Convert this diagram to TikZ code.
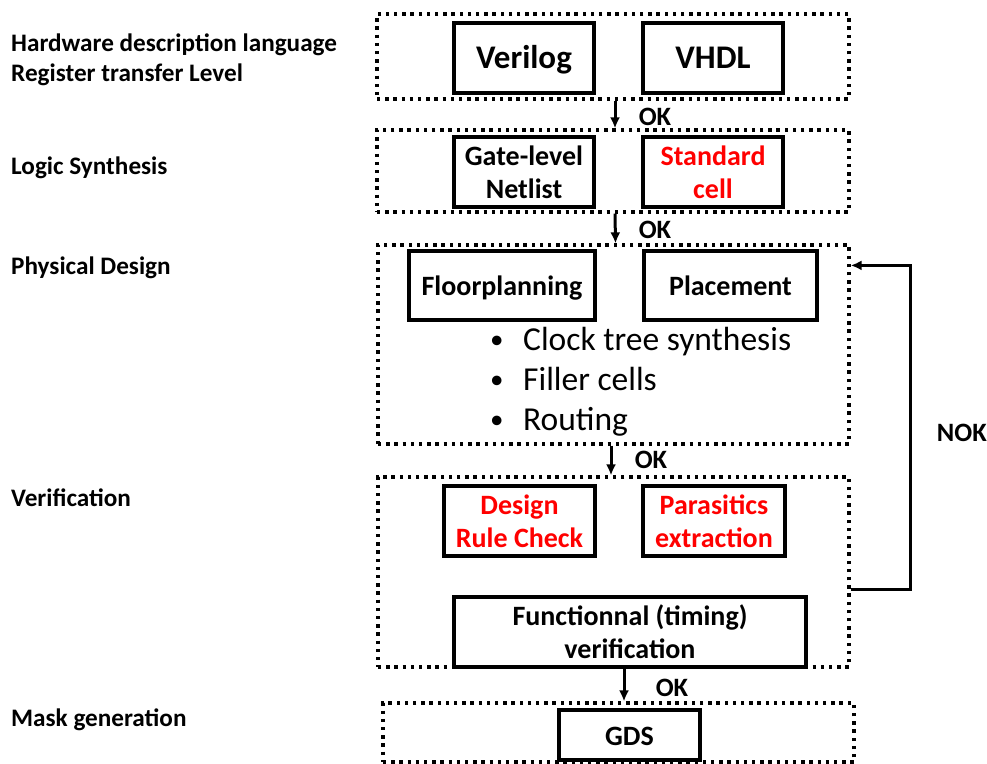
\documentclass[tikz,border=0pt]{standalone}
\usepackage{fontspec}
\setmainfont{Carlito}
\usetikzlibrary{arrows.meta}
\tikzset{
    stage/.style={draw, line width=3.2pt, dash pattern=on 3.4pt off 4.8pt, inner sep=0pt},
    cell/.style={draw, line width=3.2pt, inner sep=0pt, align=center,
        font=\fontsize{28}{33}\selectfont\bfseries},
    oneline/.style={text height=24pt, text depth=4pt},
    bigcell/.style={cell, oneline, font=\fontsize{33}{36}\selectfont\bfseries},
    side/.style={anchor=west, inner sep=0pt, align=left,
        font=\fontsize{25.2}{30}\selectfont\bfseries},
    flow/.style={line width=3pt, -{Latex[length=11pt,width=10pt]}},
    oklabel/.style={inner sep=0pt, font=\fontsize{26.5}{30}\selectfont\bfseries},
    bullet/.style={anchor=west, inner sep=0pt, text height=22pt, text depth=0pt,
        font=\fontsize{33.5}{36}\selectfont}
}
\newcommand\StageBox[4]{%
    \node[stage, minimum width=#3, minimum height=#4] (#1) at (#2) {};
}
\newcommand\CellBox[6][cell]{%
    \node[#1, minimum width=#4, minimum height=#5] (#2) at (#3) {#6};
}
\newcommand\Dot{\makebox[35pt][l]{\hspace{2pt}\raisebox{2pt}{\fontsize{27}{27}\selectfont\textbullet}}}

\begin{document}
\begin{tikzpicture}[x=1pt,y=-1pt]
    \useasboundingbox (0,0) rectangle (987,763);
    % stage frames
    \StageBox{HdlStage}{613,56.5}{472}{85}
    \StageBox{SynthStage}{613,171}{472}{82}
    \StageBox{PhysStage}{613.5,344.5}{471}{199}
    \StageBox{VerifStage}{613.5,572}{471}{190}
    \StageBox{MaskStage}{618.5,732.5}{471}{59}
    % stage names
    \node[side] (HdlName) at (11,60) {Hardware description language\\Register transfer Level};
    \node[side] (SynthName) at (11,168) {Logic Synthesis};
    \node[side] (PhysName) at (11,268) {Physical Design};
    \node[side] (VerifName) at (11,498) {Verification};
    \node[side] (MaskName) at (11,720) {Mask generation};
    % HDL
    \CellBox[bigcell]{Verilog}{524,58}{140}{70}{Verilog}
    \CellBox[bigcell]{Vhdl}{713,58}{140}{70}{VHDL}
    % synthesis
    \CellBox{Netlist}{524,172}{140}{70}{Gate-level\\Netlist}
    \begin{scope}[text=red]
        \CellBox{StdCell}{713,172}{140}{70}{Standard\\cell}
    \end{scope}
    % physical design
    \CellBox[cell,oneline]{Floorplan}{502,285.5}{186}{69}{Floorplanning}
    \CellBox[cell,oneline]{Placement}{730.5,285.5}{173}{69}{Placement}
    \node[bullet] (Cts) at (488,339) {\Dot Clock tree synthesis};
    \node[bullet] (Filler) at (488,379) {\Dot Filler cells};
    \node[bullet] (Routing) at (488,419) {\Dot Routing};
    % verification
    \begin{scope}[text=red]
        \CellBox{Drc}{519.5,521}{151}{70}{Design\\Rule Check}
        \CellBox{Pex}{714,521}{142}{70}{Parasitics\\extraction}
    \end{scope}
    \CellBox{FuncVer}{630,632}{352}{70}{Functionnal (timing)\\verification}
    % mask
    \CellBox[cell,oneline]{Gds}{629.5,735}{141}{50}{GDS}
    % flow
    \draw[flow] ([xshift=2pt]HdlStage.south) -- ([xshift=2pt]SynthStage.north);
    \node[oklabel] (Ok1) at (655,117) {OK};
    \draw[flow] ([xshift=2pt]SynthStage.south) -- ([xshift=2pt]PhysStage.north);
    \node[oklabel] (Ok2) at (655,230) {OK};
    \draw[flow] ([xshift=-2.5pt]PhysStage.south) -- ([xshift=-2.5pt]VerifStage.north);
    \node[oklabel] (Ok3) at (651,460) {OK};
    \draw[flow] ([xshift=-6pt]FuncVer.south) -- ([xshift=-6pt]FuncVer.south |- MaskStage.north);
    \node[oklabel] (Ok4) at (672,688) {OK};
    % loop back
    \coordinate (NokTurn) at (910,430);
    \draw[flow] ([yshift=-17pt]VerifStage.east) -| (NokTurn)
        |- ([yshift=-22pt]PhysStage.north east);
    \node[oklabel, anchor=east] (Nok) at (987,433) {NOK};
\end{tikzpicture}
\end{document}
